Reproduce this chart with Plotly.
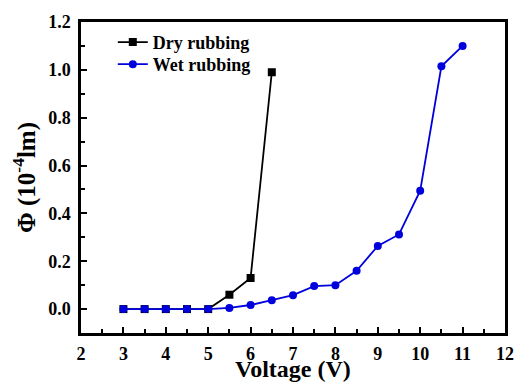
import plotly.graph_objects as go

dry_x = [3, 3.5, 4, 4.5, 5, 5.5, 6, 6.5]
dry_y = [0, 0, 0, 0, 0, 0.06, 0.13, 0.99]
wet_x = [3, 3.5, 4, 4.5, 5, 5.5, 6, 6.5, 7, 7.5, 8, 8.5, 9, 9.5, 10, 10.5, 11]
wet_y = [0, 0, 0, 0, 0, 0.005, 0.017, 0.037, 0.058, 0.096, 0.1, 0.16, 0.264, 0.312, 0.495, 1.015, 1.1]

FONT = "Liberation Serif"

fig = go.Figure()
fig.add_trace(go.Scatter(x=dry_x, y=dry_y, mode="lines+markers", name="Dry rubbing", legend="legend",
                         showlegend=True,
                         line=dict(color="black", width=1.8),
                         marker=dict(symbol="square", size=8, color="black")))
fig.add_trace(go.Scatter(x=wet_x, y=wet_y, mode="lines+markers", name="Wet rubbing", legend="legend2",
                         showlegend=True,
                         line=dict(color="#0000dd", width=1.8),
                         marker=dict(symbol="circle", size=8, color="#0000dd")))

fig.update_xaxes(range=[2, 12], dtick=1, tick0=2, tickprefix="<b>", ticksuffix="</b>",
                 showline=True, linewidth=2.5, linecolor="black", mirror=True,
                 ticks="inside", ticklen=6, tickwidth=2, tickcolor="black",
                 showgrid=False, zeroline=False, ticklabelstandoff=3, automargin=False,
                 tickfont=dict(family=FONT, size=18, color="black"),
                 minor=dict(ticks="inside", ticklen=4, tickwidth=2, dtick=0.5, tickcolor="black"))
fig.update_yaxes(range=[-0.1, 1.2], dtick=0.2, tick0=0, tickformat=".1f", tickprefix="<b>", ticksuffix="</b>",
                 showline=True, linewidth=2.5, linecolor="black", mirror=True,
                 ticks="inside", ticklen=6, tickwidth=2, tickcolor="black",
                 showgrid=False, zeroline=False, ticklabelstandoff=4, automargin=False,
                 tickfont=dict(family=FONT, size=18, color="black"),
                 minor=dict(ticks="inside", ticklen=4, tickwidth=2, dtick=0.1, tickcolor="black"),
                 title=dict(text="<b>Φ (10<sup>-4</sup>lm)</b>", font=dict(family=FONT, size=25, color="black"), standoff=6))

fig.add_annotation(text="<b>Voltage (V)</b>", xref="paper", yref="paper", x=0.5, y=-0.116,
                   xanchor="center", yanchor="middle", showarrow=False,
                   font=dict(family=FONT, size=24, color="black"))

leg = dict(xanchor="left", yanchor="top", bgcolor="rgba(0,0,0,0)", itemwidth=30,
           font=dict(family=FONT, size=18, color="black", weight="bold"))
fig.update_layout(width=517, height=389, margin=dict(l=81, r=12, t=22, b=56, autoexpand=False),
                  paper_bgcolor="white", plot_bgcolor="white", showlegend=True,
                  font=dict(family=FONT, color="black"),
                  legend=dict(x=0.075, y=0.994, **leg),
                  legend2=dict(x=0.075, y=0.923, **leg),
                  )
fig.write_html("out.html")
